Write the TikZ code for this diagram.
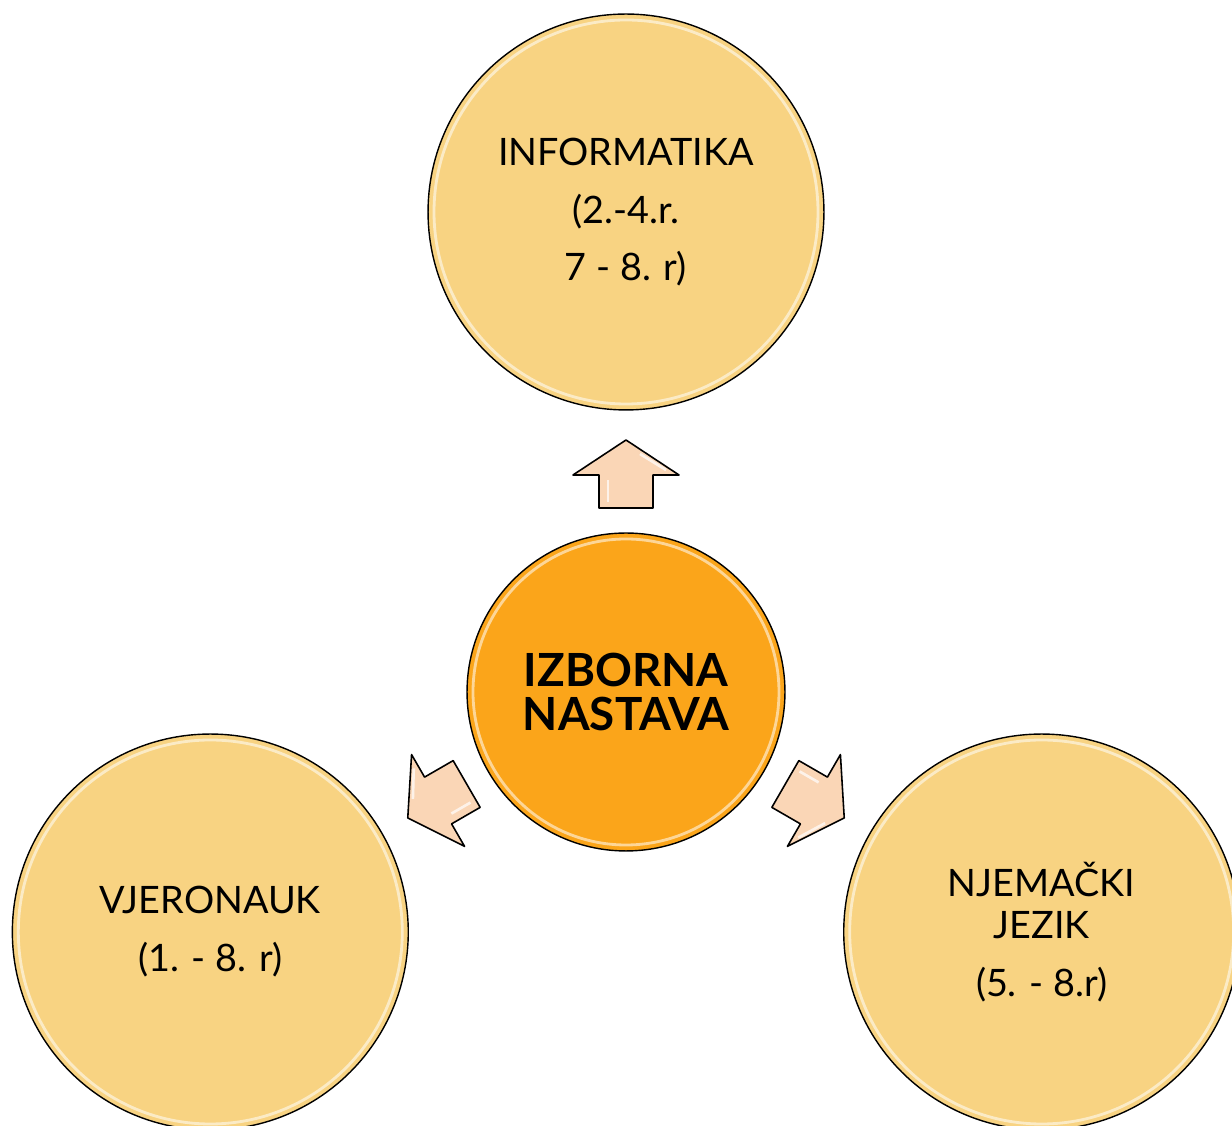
\documentclass[tikz,border=0pt]{standalone}
\usepackage{fontspec}
\setmainfont{Lato}
\usetikzlibrary{calc}

\definecolor{satfill}{RGB}{248,211,130}
\definecolor{hubfill}{RGB}{251,165,26}
\definecolor{arrowfill}{RGB}{250,214,182}

\begin{document}
\begin{tikzpicture}[x=0.02cm,y=0.02cm,
    hub/.style={circle,draw,line width=0.8pt,fill=hubfill,minimum size=6.36cm,inner sep=0,align=center,
        font=\fontsize{26}{25.5}\selectfont\bfseries},
    sat/.style={circle,draw,line width=0.8pt,fill=satfill,minimum size=7.92cm,inner sep=0,align=center,
        font=\fontsize{21.5}{24}\selectfont},
    gloss/.style={white,opacity=.55,line width=1.6pt}]
    \pgfmathsetmacro{\satdist}{480}
    \pgfmathsetmacro{\arrowdist}{218}
    \clip (0,0) rectangle (1232,1126);
    % hub and the three subjects
    \node[hub] (centre) at (626,434) {IZBORNA\\NASTAVA};
    \node[sat] (info) at ($(centre)+(90:\satdist)$) {INFORMATIKA\\[9pt](2.-4.r.\\[8pt]7 - 8. r)};
    \node[sat] (vjer) at ($(centre)+(210:\satdist)$) {VJERONAUK\\[9pt](1. - 8. r)};
    \node[sat] (njem) at ($(centre)+(330:\satdist)$) {NJEMAČKI\\JEZIK\\[9pt](5. - 8.r)};
    \draw[gloss] (centre) circle[radius=153];
    \foreach \n in {info,vjer,njem}
        \draw[gloss] (\n) circle[radius=192];
    % block arrows
    \foreach \a in {90,210,330}
    {
        \begin{scope}[shift={($(centre)+(\a:\arrowdist)$)},rotate=\a]
            \draw[line width=0.9pt,line join=round,fill=arrowfill]
                (34,0) -- (-1,53) -- (-1,27) -- (-34,27) -- (-34,-27) -- (-1,-27) -- (-1,-53) -- cycle;
            \draw[white,opacity=.7,line width=1.5pt] (-28,18) -- (-6,18);
            \draw[white,opacity=.7,line width=1.5pt] (4,-40) -- (20,-14);
        \end{scope}
    }
\end{tikzpicture}
\end{document}
